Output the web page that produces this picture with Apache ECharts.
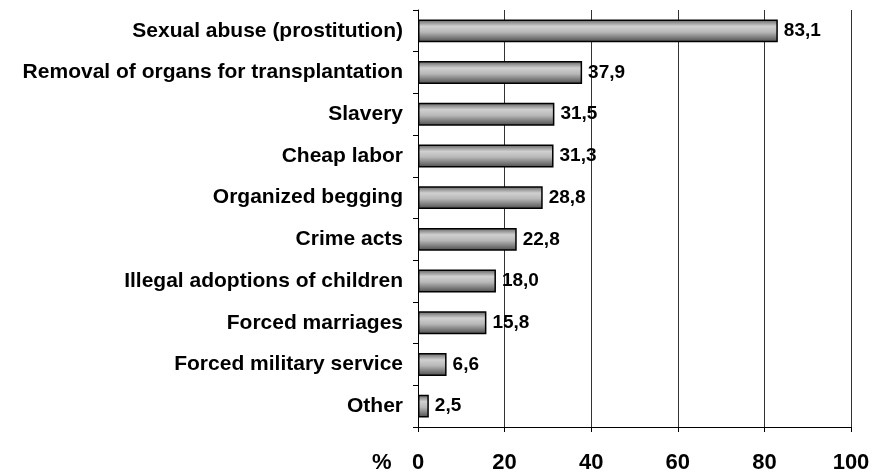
<!DOCTYPE html>
<html>
<head>
<meta charset="utf-8">
<script src="https://cdn.jsdelivr.net/npm/echarts@6/dist/echarts.min.js"></script>
<style>
  html, body { margin: 0; padding: 0; background: #fff; }
  #chart { width: 876px; height: 474px; }
</style>
</head>
<body>
<div id="chart"></div>
<script>
// Purposes of human trafficking, share of respondents (%)
const categories = [
  'Sexual abuse (prostitution)',
  'Removal of organs for transplantation',
  'Slavery',
  'Cheap labor',
  'Organized begging',
  'Crime acts',
  'Illegal adoptions of children',
  'Forced marriages',
  'Forced military service',
  'Other'
];
const values = [83.1, 37.9, 31.5, 31.3, 28.8, 22.8, 18.0, 15.8, 6.6, 2.5];
const axisTicks = [0, 20, 40, 60, 80, 100];
const unitLabel = '%';

const font = '"Liberation Sans", Arial, sans-serif';
const chart = echarts.init(document.getElementById('chart'));

const barFill = new echarts.graphic.LinearGradient(0, 0, 0, 1, [
  { offset: 0, color: '#5e5e5e' },
  { offset: 0.3, color: '#d0d0d0' },
  { offset: 0.55, color: '#b8b8b8' },
  { offset: 1, color: '#4a4a4a' }
]);

chart.setOption({
  animation: false,
  grid: { left: 418, right: 25, top: 10, bottom: 46, containLabel: false },
  xAxis: {
    type: 'value',
    min: axisTicks[0],
    max: axisTicks[axisTicks.length - 1],
    interval: axisTicks[1] - axisTicks[0],
    axisLine: { show: true, lineStyle: { color: '#000', width: 1 } },
    axisTick: { show: true, length: 5, lineStyle: { color: '#000' } },
    axisLabel: {
      color: '#000', fontFamily: font, fontWeight: 'bold', fontSize: 22, margin: 25
    },
    splitLine: { show: true, lineStyle: { color: '#333', width: 1 } }
  },
  yAxis: {
    type: 'category',
    inverse: true,
    data: categories,
    axisLine: { show: true, lineStyle: { color: '#000', width: 1 } },
    axisTick: { show: true, length: 5, lineStyle: { color: '#000' } },
    axisLabel: {
      color: '#000', fontFamily: font, fontWeight: 'bold', fontSize: 21, margin: 15
    }
  },
  graphic: [{
    type: 'text',
    left: 372,
    top: 452,
    style: { text: unitLabel, fill: '#000', font: 'bold 22px ' + font }
  }],
  series: [{
    type: 'bar',
    data: values,
    barCategoryGap: '45%',
    itemStyle: { color: barFill, borderColor: '#000', borderWidth: 1.5 },
    label: {
      show: true,
      position: 'right',
      distance: 6,
      color: '#000',
      fontFamily: font,
      fontWeight: 'bold',
      fontSize: 19,
      formatter: p => p.value.toFixed(1).replace('.', ',')
    }
  }]
});
</script>
</body>
</html>
